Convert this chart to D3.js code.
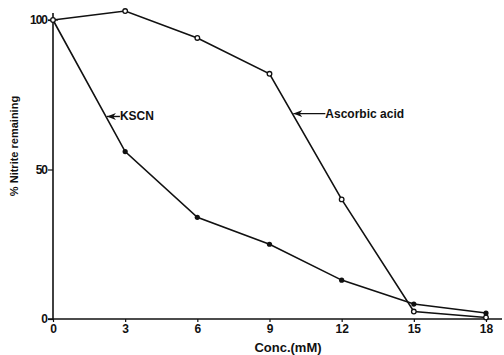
<!DOCTYPE html>
<html>
<head>
<meta charset="utf-8">
<script src="https://cdn.jsdelivr.net/npm/d3@7"></script>
<style>
  body { margin: 0; background: #fff; }
  text { font-family: "Liberation Sans", Arial, sans-serif; font-weight: bold; fill: #111; }
</style>
</head>
<body>
<div id="chart"></div>
<script>
// concentration (mM) and % nitrite remaining
const conc = [0, 3, 6, 9, 12, 15, 18];
const ascorbic = [100, 103, 94, 82, 40, 2.5, 0.5];
const kscn = [100, 56, 34, 25, 13, 5, 2];
const xTicks = [0, 3, 6, 9, 12, 15, 18];
const yTicks = [0, 50, 100];

const width = 504;
const height = 355;
const svg = d3.select('#chart').append('svg')
  .attr('width', width)
  .attr('height', height);

const xScale = d3.scaleLinear()
  .domain([0, 18])
  .range([53, 486]);
const yScale = d3.scaleLinear()
  .domain([0, 100])
  .range([319, 20]);

// axes
const xAxis = d3.axisBottom(xScale)
  .tickValues(xTicks)
  .tickSize(3)
  .tickSizeOuter(0)
  .tickPadding(2);
const gx = svg.append('g')
  .attr('transform', `translate(0, ${yScale(0)})`)
  .call(xAxis);
gx.select('.domain').remove();
gx.append('line')
  .attr('x1', xScale(0) - 5).attr('x2', 502)
  .attr('stroke', '#111').attr('stroke-width', 1.6);
gx.selectAll('.tick line').attr('stroke', '#111').attr('stroke-width', 1.2);
gx.selectAll('.tick text')
  .style('font-size', '12px')
  .style('font-family', '"Liberation Sans", Arial, sans-serif')
  .style('font-weight', 'bold')
  .attr('fill', '#111');

const yAxis = d3.axisLeft(yScale)
  .tickValues(yTicks)
  .tickSize(5)
  .tickSizeOuter(0)
  .tickPadding(1);
const gy = svg.append('g')
  .attr('transform', `translate(${xScale(0)}, 0)`)
  .call(yAxis);
gy.select('.domain').remove();
gy.append('line')
  .attr('y1', 13).attr('y2', yScale(0))
  .attr('stroke', '#111').attr('stroke-width', 1.6);
gy.selectAll('.tick line').attr('stroke', '#111').attr('stroke-width', 1.2);
gy.selectAll('.tick text')
  .style('font-size', '12px')
  .style('font-family', '"Liberation Sans", Arial, sans-serif')
  .style('font-weight', 'bold')
  .style('letter-spacing', '-1px')
  .attr('fill', '#111');
// the 100 tick crosses the axis
gy.append('line')
  .attr('x1', -5).attr('x2', 5)
  .attr('y1', yScale(100)).attr('y2', yScale(100))
  .attr('stroke', '#111').attr('stroke-width', 1.2);

// axis titles
svg.append('text')
  .attr('x', 288)
  .attr('y', 352)
  .attr('text-anchor', 'middle')
  .style('font-size', '13px')
  .text('Conc.(mM)');
svg.append('text')
  .attr('transform', 'translate(18, 146) rotate(-90)')
  .attr('text-anchor', 'middle')
  .style('font-size', '11px')
  .text('% Nitrite  remaining');

// lines
const line = d3.line()
  .x((d, i) => xScale(conc[i]))
  .y(d => yScale(d));
[ascorbic, kscn].forEach(series => {
  svg.append('path')
    .datum(series)
    .attr('fill', 'none')
    .attr('stroke', '#111')
    .attr('stroke-width', 1.6)
    .attr('d', line);
});

// markers: open circles for ascorbic acid, filled for KSCN
svg.selectAll('circle.asc')
  .data(ascorbic)
  .join('circle')
  .attr('class', 'asc')
  .attr('cx', (d, i) => xScale(conc[i]))
  .attr('cy', d => yScale(d))
  .attr('r', 2.3)
  .attr('fill', '#fff')
  .attr('stroke', '#111')
  .attr('stroke-width', 1.3);
svg.selectAll('circle.kscn')
  .data(kscn.slice(1))
  .join('circle')
  .attr('class', 'kscn')
  .attr('cx', (d, i) => xScale(conc[i + 1]))
  .attr('cy', d => yScale(d))
  .attr('r', 2.6)
  .attr('fill', '#111');

// arrow labels
svg.append('defs').append('marker')
  .attr('id', 'head')
  .attr('viewBox', '0 0 10 10')
  .attr('refX', 0).attr('refY', 5)
  .attr('markerWidth', 9).attr('markerHeight', 9)
  .attr('markerUnits', 'userSpaceOnUse')
  .attr('orient', 'auto')
  .append('path')
  .attr('d', 'M0,5 L10,1 L7,5 L10,9 Z')
  .attr('fill', '#111');

const labels = [
  {text: 'KSCN', at: 2.2, series: kscn, len: 13},
  {text: 'Ascorbic  acid', at: 9.95, series: ascorbic, len: 32}
];
labels.forEach(l => {
  const i = Math.floor(l.at / 3);
  const t = (l.at - conc[i]) / 3;
  const v = l.series[i] + (l.series[i + 1] - l.series[i]) * t;
  const x0 = xScale(l.at) + 1;
  const y0 = yScale(v);
  svg.append('line')
    .attr('x1', x0).attr('y1', y0)
    .attr('x2', x0 + l.len).attr('y2', y0)
    .attr('stroke', '#111')
    .attr('stroke-width', 1.4)
    .attr('marker-start', 'url(#head)');
  svg.append('text')
    .attr('x', x0 + l.len)
    .attr('y', y0 + 4)
    .style('font-size', '12px')
    .text(l.text);
});
</script>
</body>
</html>
